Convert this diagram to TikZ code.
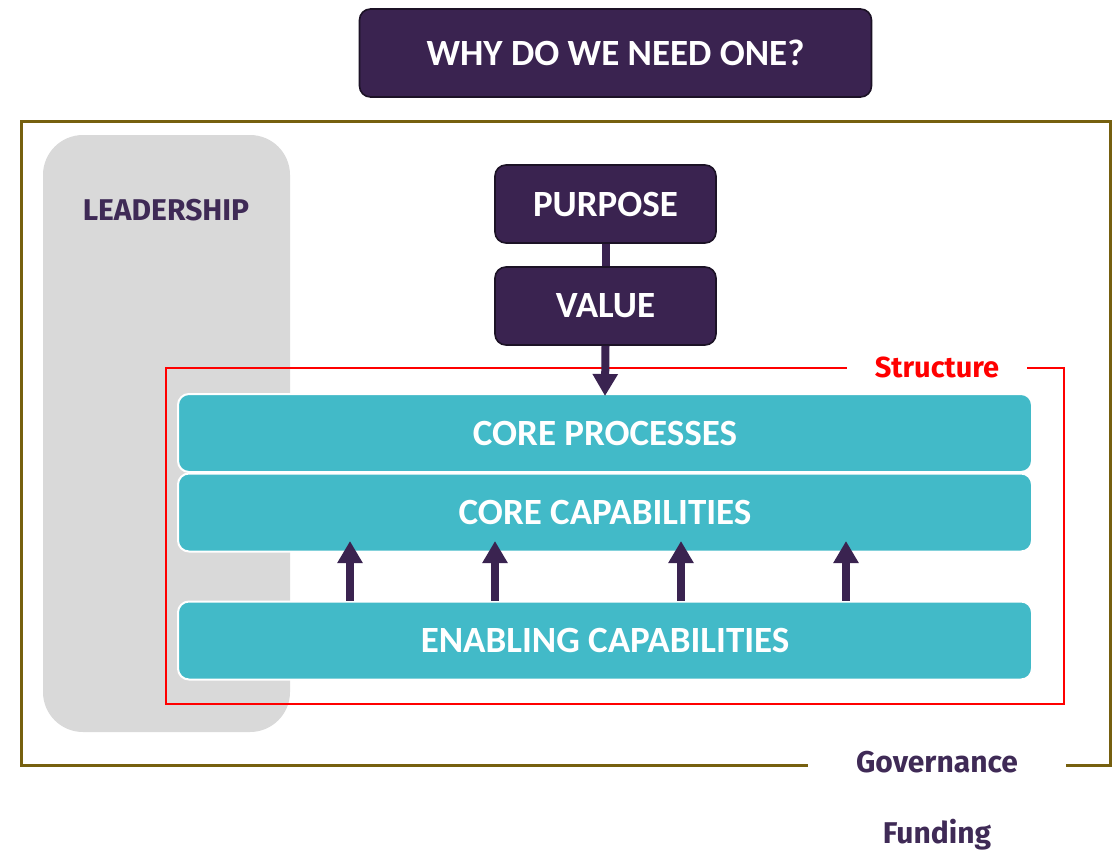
\documentclass[tikz,border=0pt]{standalone}
\usepackage{fontspec}
\usetikzlibrary{arrows.meta}
\newfontfamily\boxfont{Carlito}
\newfontfamily\labelfont{Fira Sans}
\definecolor{plum}{HTML}{3A2350}
\definecolor{plumedge}{HTML}{1C1226}
\definecolor{plumtext}{HTML}{3F2A56}
\definecolor{teal}{HTML}{42BAC8}
\definecolor{olive}{HTML}{76600F}
\definecolor{leadgrey}{HTML}{D9D9D9}
\tikzset{
  darkbox/.style={rectangle, rounded corners=11pt, fill=plum, draw=plumedge, line width=1.6pt,
    text=white, font=\boxfont\bfseries\fontsize{37}{44}\selectfont},
  layerbox/.style={rectangle, rounded corners=11pt, fill=teal, draw=white, line width=2pt,
    minimum width=854pt, minimum height=78pt, text=white,
    font=\boxfont\bfseries\fontsize{37}{44}\selectfont},
  sidelabel/.style={text=plumtext, font=\labelfont\bfseries\fontsize{30}{36}\selectfont},
  flow/.style={draw=plum, line width=8pt},
  flowarrow/.style={flow, -{Triangle[width=24pt,length=22pt]}},
}
\begin{document}
\begin{tikzpicture}[x=1pt, y=-1pt]
\useasboundingbox[fill=white] (0,0) rectangle (1112,852);

% outer governance frame with its label sitting on the lower edge
\node[draw=olive, line width=3pt, minimum width=1089pt, minimum height=644pt, inner sep=0pt]
  (gov) at (565.5,443) {};
\node[sidelabel, fill=white, minimum width=258pt, inner sep=2pt] (govlabel) at (937,762) {Governance};
\node[sidelabel] (funding) at (937,835) {Funding};

% leadership column
\node[rectangle, rounded corners=40pt, fill=leadgrey, minimum width=247pt, minimum height=597pt]
  (lead) at (166.5,433.5) {};
\node[sidelabel] (leadlabel) at (166,210) {LEADERSHIP};

% structure frame
\node[draw=red, line width=2pt, minimum width=898pt, minimum height=336pt, inner sep=0pt]
  (struct) at (615,536) {};
\node[text=red, font=\labelfont\bfseries\fontsize{29}{34}\selectfont, fill=white,
  minimum width=180pt, inner sep=2pt] (structlabel) at (937,367) {Structure};

% layers
\node[layerbox] (coreproc) at (605,433) {CORE PROCESSES};
\node[layerbox] (corecap) at (605,512.5) {CORE CAPABILITIES};
\node[layerbox] (enabling) at (605,640.5) {ENABLING CAPABILITIES};

% title and value chain
\node[darkbox, minimum width=512pt, minimum height=88pt] (why) at (615.5,53) {WHY DO WE NEED ONE?};
\node[darkbox, minimum width=221pt, minimum height=78pt] (purpose) at (605.5,204) {PURPOSE};
\node[darkbox, minimum width=221pt, minimum height=78pt] (value) at (605.5,306) {VALUE};

\draw[flow] (purpose.south) -- (value.north);
\draw[flowarrow] (value.south) -- ([yshift=-3pt]coreproc.north);

% enabling capabilities feed the core capabilities
\foreach \ax [count=\i] in {350,495,681,846} {
  \coordinate (tip\i) at (\ax,541);
  \draw[flowarrow] (enabling.north -| tip\i) -- (tip\i);
}
\end{tikzpicture}
\end{document}
